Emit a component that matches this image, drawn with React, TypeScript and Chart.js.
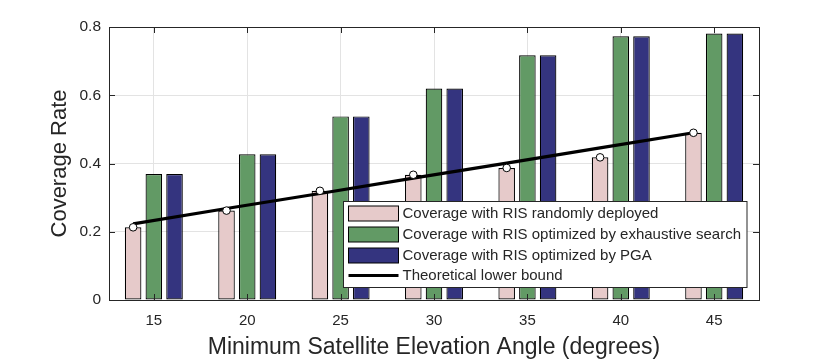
import React, { useEffect, useRef } from "react";
import { Chart, registerables } from "chart.js";

Chart.register(...registerables);

const categories = [15, 20, 25, 30, 35, 40, 45];
const randomDeployed = [0.213, 0.262, 0.32, 0.367, 0.387, 0.418, 0.49];
const exhaustiveSearch = [0.369, 0.427, 0.538, 0.62, 0.717, 0.773, 0.781];
const pgaOptimized = [0.369, 0.427, 0.538, 0.62, 0.717, 0.773, 0.781];
const lowerBound = [0.223, 0.268, 0.312, 0.357, 0.401, 0.446, 0.49];

const seriesLabels = [
  "Coverage with RIS randomly deployed",
  "Coverage with RIS optimized by exhaustive search",
  "Coverage with RIS optimized by PGA",
  "Theoretical lower bound",
];
const xTitle = "Minimum Satellite Elevation Angle (degrees)";
const yTitle = "Coverage Rate";

const PINK = "#E6CACA";
const GREEN = "#629A65";
const BLUE = "#34347F";
const AXIS = "#262626";
const GRID = "#E3E3E3";
const FONT = "'Liberation Sans', Arial, sans-serif";

const CATEGORY_PERCENT = 0.665;
const BAR_PERCENT = 0.8;
const step = categories[1] - categories[0];
const firstBarShift = (step * CATEGORY_PERCENT) / 3;
const lineX = categories.map((c) => c - firstBarShift);

const decorPlugin = {
  id: "decor",
  afterDatasetsDraw(chart: any) {
    const { ctx, chartArea } = chart;
    const { left, right, top, bottom } = chartArea;
    const xs = chart.scales.x;
    const ys = chart.scales.y;
    const tl = 6;
    ctx.save();
    ctx.strokeStyle = AXIS;
    ctx.lineWidth = 1;
    ctx.beginPath();
    xs.ticks.forEach((t: any) => {
      const px = Math.round(xs.getPixelForValue(t.value)) + 0.5;
      ctx.moveTo(px, bottom);
      ctx.lineTo(px, bottom - tl);
      ctx.moveTo(px, top);
      ctx.lineTo(px, top + tl);
    });
    ys.ticks.forEach((t: any) => {
      const py = Math.round(ys.getPixelForValue(t.value)) + 0.5;
      ctx.moveTo(left, py);
      ctx.lineTo(left + tl, py);
      ctx.moveTo(right, py);
      ctx.lineTo(right - tl, py);
    });
    ctx.stroke();
    ctx.strokeRect(Math.round(left) + 0.5, Math.round(top) + 0.5, Math.round(right - left), Math.round(bottom - top));
    ctx.restore();
  },
  afterDraw(chart: any) {
    const { ctx, chartArea } = chart;
    const { left, right, top, bottom } = chartArea;
    ctx.save();
    // axis titles
    ctx.fillStyle = AXIS;
    ctx.textAlign = "center";
    ctx.textBaseline = "alphabetic";
    ctx.font = `23px ${FONT}`;
    ctx.fillText(xTitle, (left + right) / 2, 353.5);
    ctx.font = `22px ${FONT}`;
    ctx.save();
    ctx.translate(66, (top + bottom) / 2);
    ctx.rotate(-Math.PI / 2);
    ctx.fillText(yTitle, 0, 0);
    ctx.restore();

    // legend
    ctx.font = `15px ${FONT}`;
    const textW = Math.max(...seriesLabels.map((s) => ctx.measureText(s).width));
    const padL = 5;
    const swW = 50;
    const gap = 4;
    const padR = 6;
    const boxW = padL + swW + gap + textW + padR;
    const boxH = 86;
    const bx = Math.round(right - 13 - boxW) + 0.5;
    const by = Math.round(bottom - 13 - boxH) + 0.5;
    ctx.fillStyle = "#FFFFFF";
    ctx.fillRect(bx, by, boxW, boxH);
    ctx.strokeStyle = AXIS;
    ctx.lineWidth = 1;
    ctx.strokeRect(bx, by, boxW, boxH);
    const ds = chart.data.datasets;
    const order = [2, 3, 4, 0];
    const pitch = 20.6;
    order.forEach((di, i) => {
      const cy = by + 12.3 + i * pitch;
      const sx = bx + padL;
      if (i < 3) {
        ctx.fillStyle = ds[di].backgroundColor;
        ctx.fillRect(sx, Math.round(cy - 7.5), swW, 15);
        ctx.strokeStyle = "#000";
        ctx.strokeRect(sx, Math.round(cy - 7.5), swW, 15);
      } else {
        ctx.strokeStyle = "#000";
        ctx.lineWidth = 3;
        ctx.beginPath();
        ctx.moveTo(sx, cy);
        ctx.lineTo(sx + swW, cy);
        ctx.stroke();
        ctx.lineWidth = 1;
      }
      ctx.fillStyle = AXIS;
      ctx.textAlign = "left";
      ctx.textBaseline = "middle";
      ctx.fillText(seriesLabels[i], sx + swW + gap, cy + 0.5);
    });
    ctx.restore();
  },
};

export default function App() {
  const ref = useRef<HTMLCanvasElement | null>(null);
  useEffect(() => {
    if (!ref.current) return;
    const barDs = (label: string, vals: number[], color: string) => ({
      type: "bar" as const,
      label,
      data: categories.map((c, i) => ({ x: c, y: vals[i] })),
      backgroundColor: color,
      borderColor: "#000000",
      borderWidth: 1.2,
      borderSkipped: false,
      categoryPercentage: CATEGORY_PERCENT,
      barPercentage: BAR_PERCENT,
      order: 3,
    });
    const chart = new Chart(ref.current, {
      type: "bar",
      data: {
        datasets: [
          {
            type: "line",
            label: "Simulated",
            data: lineX.map((x, i) => ({ x, y: randomDeployed[i] })),
            showLine: false,
            pointRadius: 3.8,
            pointBackgroundColor: "#FFFFFF",
            pointBorderColor: "#000000",
            pointBorderWidth: 1,
            order: 0,
          } as any,
          {
            type: "line",
            label: seriesLabels[3],
            data: lineX.map((x, i) => ({ x, y: lowerBound[i] })),
            borderColor: "#000000",
            borderWidth: 3.2,
            pointRadius: 0,
            tension: 0,
            fill: false,
            order: 1,
          } as any,
          barDs(seriesLabels[0], randomDeployed, PINK),
          barDs(seriesLabels[1], exhaustiveSearch, GREEN),
          barDs(seriesLabels[2], pgaOptimized, BLUE),
        ],
      },
      options: {
        responsive: false,
        animation: false,
        devicePixelRatio: 1,
        layout: { padding: { top: 27, right: 81, left: 0, bottom: 0 } },
        plugins: { legend: { display: false }, tooltip: { enabled: false } },
        scales: {
          x: {
            type: "linear",
            min: 12.6,
            max: 47.4,
            offset: false,
            grid: { color: GRID, offset: false, drawTicks: false },
            border: { display: false },
            ticks: {
              stepSize: 5,
              includeBounds: false,
              color: AXIS,
              font: { family: FONT, size: 15 },
              padding: 12,
              maxRotation: 0,
            },
            afterFit: (s: any) => {
              s.height = 60;
            },
          },
          y: {
            type: "linear",
            min: 0,
            max: 0.8,
            grid: { color: GRID, drawTicks: false },
            border: { display: false },
            ticks: {
              stepSize: 0.2,
              color: AXIS,
              font: { family: FONT, size: 15.5 },
              padding: 8,
              callback: (v: any) => String(+Number(v).toFixed(1)),
            },
            afterFit: (s: any) => {
              s.width = 109;
            },
          },
        },
      },
      plugins: [decorPlugin],
    });
    return () => chart.destroy();
  }, []);
  return (
    <div style={{ position: "absolute", left: 0, top: 0, width: 840, height: 360, background: "#fff" }}>
      <canvas ref={ref} width={840} height={360} style={{ width: 840, height: 360, display: "block" }} />
    </div>
  );
}
